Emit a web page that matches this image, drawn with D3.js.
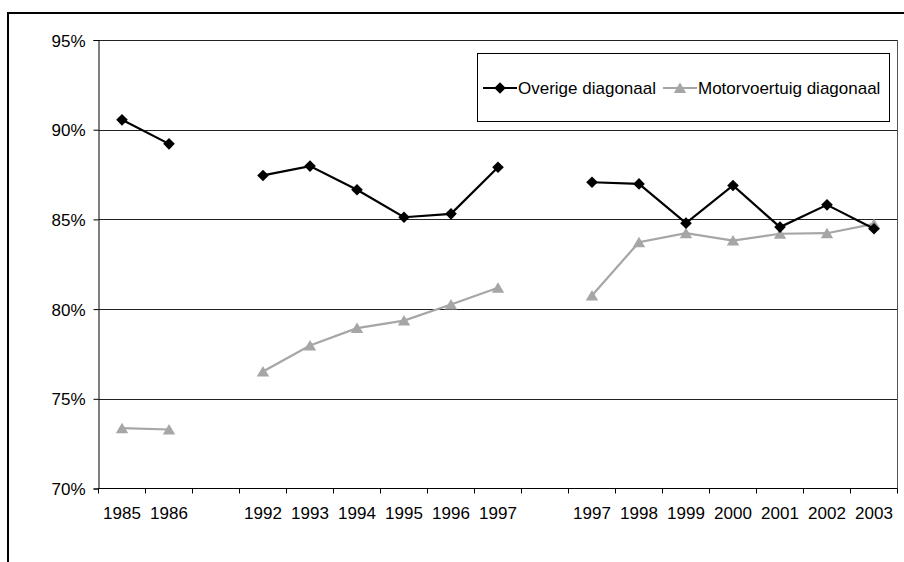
<!DOCTYPE html>
<html>
<head>
<meta charset="utf-8">
<script src="https://cdn.jsdelivr.net/npm/d3@7"></script>
<style>
  html, body { margin: 0; padding: 0; background: #fff; }
  svg text { font-family: Arial, "Liberation Sans", sans-serif; fill: #000; }
</style>
</head>
<body>
<svg id="chart" width="904" height="562"></svg>
<script>
// Category labels along the x axis (empty strings are spacer columns)
const categories = ["1985", "1986", "", "1992", "1993", "1994", "1995", "1996", "1997", "",
                    "1997", "1998", "1999", "2000", "2001", "2002", "2003"];

// Series values in percent; null where no value exists
const overige = [90.55, 89.21, null, 87.45, 87.97, 86.65, 85.12, 85.31, 87.91, null,
                 87.07, 86.98, 84.79, 86.89, 84.57, 85.81, 84.48];
const motorvoertuig = [73.36, 73.29, null, 76.52, 77.97, 78.94, 79.36, 80.26, 81.19, null,
                       80.76, 83.73, 84.23, 83.82, 84.20, 84.23, 84.75];

const yTicks = [70, 75, 80, 85, 90, 95];
const seriesNames = ["Overige diagonaal", "Motorvoertuig diagonaal"];

const fontSize = "17px";
const svg = d3.select("#chart");

// Outer chart frame
svg.append("rect")
  .attr("x", 8).attr("y", 13)
  .attr("width", 1000).attr("height", 1000)
  .attr("fill", "none").attr("stroke", "#000").attr("stroke-width", 2);

const plotLeft = 98.5, plotRight = 897.5, plotTop = 40, plotBottom = 488.5;

const x = d3.scaleBand()
  .domain(d3.range(categories.length))
  .range([plotLeft, plotRight])
  .paddingInner(0).paddingOuter(0);

const y = d3.scaleLinear().domain([70, 95]).range([plotBottom, plotTop]);

// Horizontal gridlines
svg.append("g")
  .selectAll("line")
  .data(yTicks.filter(t => t > 70))
  .join("line")
  .attr("x1", plotLeft).attr("x2", plotRight)
  .attr("y1", d => Math.round(y(d)) + 0.5).attr("y2", d => Math.round(y(d)) + 0.5)
  .attr("stroke", "#222").attr("stroke-width", 1);

// Right edge of the plot area
svg.append("line")
  .attr("x1", plotRight).attr("x2", plotRight)
  .attr("y1", plotTop).attr("y2", plotBottom)
  .attr("stroke", "#555").attr("stroke-width", 1);

// Y axis
const yAxis = d3.axisLeft(y)
  .tickValues(yTicks)
  .tickSize(5)
  .tickPadding(8)
  .tickFormat(d => d + "%");
const gy = svg.append("g").attr("transform", `translate(${plotLeft},0)`).call(yAxis);
gy.select(".domain").attr("stroke", "#000");
gy.selectAll(".tick line").attr("stroke", "#000");
gy.selectAll(".tick text")
  .style("font-size", fontSize)
  .attr("dy", "0.36em");

// X axis: tick marks sit on the column boundaries, labels in the column centres
const gx = svg.append("g").attr("transform", `translate(0,${plotBottom})`);
gx.append("line")
  .attr("x1", plotLeft).attr("x2", plotRight)
  .attr("y1", 0).attr("y2", 0)
  .attr("stroke", "#000");
gx.selectAll("line.tick")
  .data(d3.range(categories.length + 1))
  .join("line")
  .attr("class", "tick")
  .attr("x1", i => plotLeft + i * x.bandwidth())
  .attr("x2", i => plotLeft + i * x.bandwidth())
  .attr("y1", 0).attr("y2", 5)
  .attr("stroke", "#000");
gx.selectAll("text")
  .data(categories)
  .join("text")
  .attr("x", (d, i) => x(i) + x.bandwidth() / 2)
  .attr("y", 30)
  .attr("text-anchor", "middle")
  .style("font-size", fontSize)
  .text(d => d);

// Marker shapes
const diamondPath = "M0,-5.8L5.8,0L0,5.8L-5.8,0Z";
const trianglePath = "M0,-5.5L6.2,5L-6.2,5Z";

const line = d3.line()
  .defined(d => d.v !== null)
  .x(d => x(d.i) + x.bandwidth() / 2)
  .y(d => y(d.v));

function drawSeries(values, color, path) {
  const pts = values.map((v, i) => ({ i, v }));
  svg.append("path")
    .datum(pts)
    .attr("d", line)
    .attr("fill", "none")
    .attr("stroke", color)
    .attr("stroke-width", 2.2);
  svg.append("g")
    .selectAll("path")
    .data(pts.filter(d => d.v !== null))
    .join("path")
    .attr("d", path)
    .attr("transform", d => `translate(${x(d.i) + x.bandwidth() / 2},${y(d.v)})`)
    .attr("fill", color);
}

drawSeries(motorvoertuig, "#a6a6a6", trianglePath);
drawSeries(overige, "#000", diamondPath);

// Legend
const legend = svg.append("g");
legend.append("rect")
  .attr("x", 477.5).attr("y", 53.5)
  .attr("width", 412).attr("height", 68)
  .attr("fill", "#fff").attr("stroke", "#000").attr("stroke-width", 1);

const legendItems = [
  { name: seriesNames[0], color: "#000", path: diamondPath, x0: 483, x1: 517, tx: 518 },
  { name: seriesNames[1], color: "#a6a6a6", path: trianglePath, x0: 663, x1: 697, tx: 698 }
];
const ly = 88;
legendItems.forEach(it => {
  legend.append("line")
    .attr("x1", it.x0).attr("x2", it.x1)
    .attr("y1", ly).attr("y2", ly)
    .attr("stroke", it.color).attr("stroke-width", 2.2);
  legend.append("path")
    .attr("d", it.path)
    .attr("transform", `translate(${(it.x0 + it.x1) / 2},${ly})`)
    .attr("fill", it.color);
  legend.append("text")
    .attr("x", it.tx).attr("y", ly)
    .attr("dy", "0.36em")
    .style("font-size", fontSize)
    .text(it.name);
});
</script>
</body>
</html>
